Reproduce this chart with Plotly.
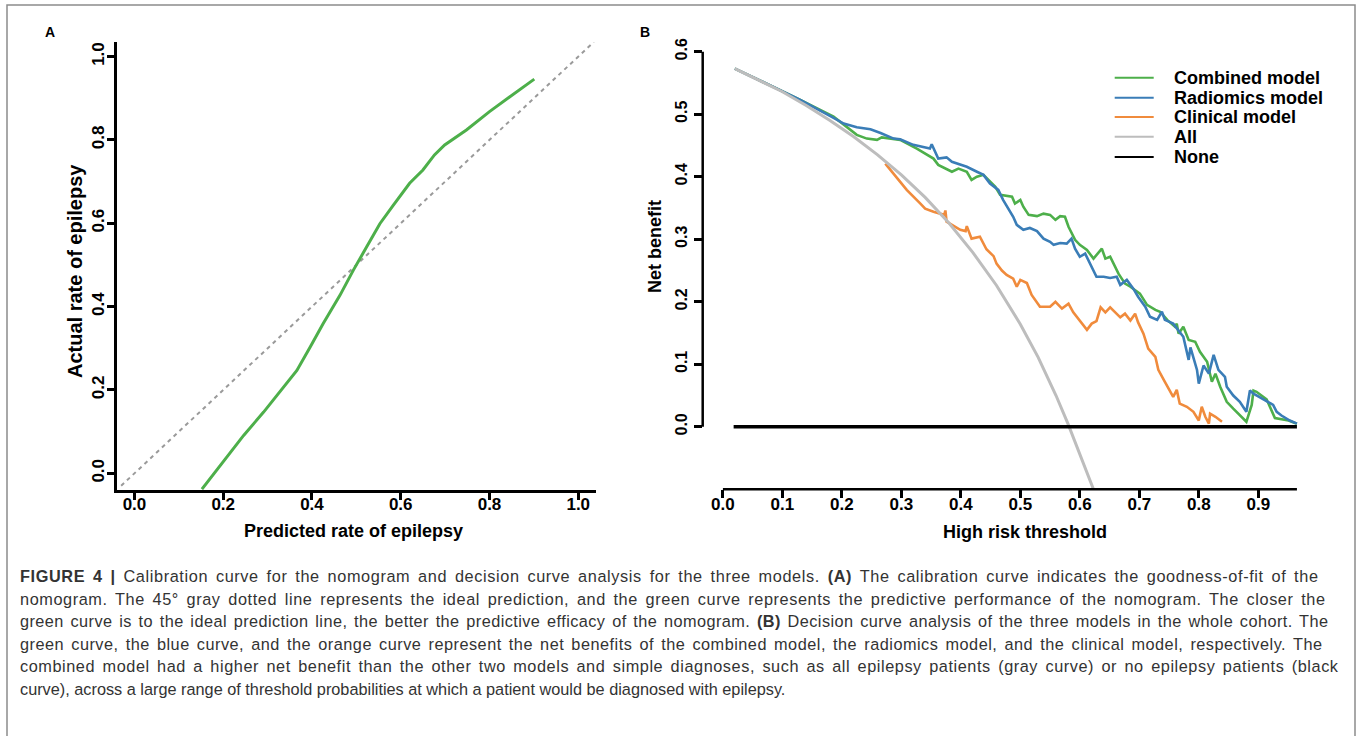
import plotly.graph_objects as go

W, H = 1357, 736

# ---------------- Panel A: calibration curve ----------------
calib_pred = [0.152, 0.201, 0.246, 0.291, 0.328, 0.366, 0.396, 0.425, 0.463, 0.493, 0.523,
              0.553, 0.583, 0.620, 0.650, 0.676, 0.699, 0.748, 0.800, 0.852, 0.901]
calib_actual = [-0.038, 0.030, 0.091, 0.147, 0.195, 0.247, 0.303, 0.359, 0.427, 0.487, 0.543,
                0.599, 0.643, 0.696, 0.728, 0.764, 0.788, 0.824, 0.868, 0.908, 0.946]
ideal_x = [-0.03, 1.035]
ideal_y = [-0.03, 1.035]
calib_ticks = [0.0, 0.2, 0.4, 0.6, 0.8, 1.0]
calib_ticktext = ["0.0", "0.2", "0.4", "0.6", "0.8", "1.0"]

# ---------------- Panel B: decision curves ----------------
comb_x = [0.02, 0.074, 0.13, 0.186, 0.208, 0.225, 0.242, 0.259, 0.267, 0.281, 0.298, 0.326, 0.354,
          0.362, 0.376, 0.385, 0.396, 0.410, 0.418, 0.427, 0.438, 0.449, 0.458, 0.466, 0.478, 0.486,
          0.491, 0.500, 0.505, 0.514, 0.528, 0.539, 0.550, 0.559, 0.567, 0.575, 0.581, 0.592, 0.600,
          0.612, 0.623, 0.637, 0.643, 0.651, 0.665, 0.676, 0.685, 0.701, 0.713, 0.727, 0.735, 0.747,
          0.760, 0.763, 0.766, 0.774, 0.783, 0.794, 0.802, 0.814, 0.822, 0.828, 0.836, 0.847, 0.858,
          0.869, 0.880, 0.889, 0.892, 0.897, 0.914, 0.928, 0.951, 0.965]
comb_y = [0.573, 0.549, 0.523, 0.496, 0.480, 0.467, 0.461, 0.459, 0.463, 0.461, 0.459, 0.445, 0.429,
          0.419, 0.413, 0.408, 0.413, 0.408, 0.395, 0.400, 0.403, 0.392, 0.384, 0.371, 0.369, 0.368,
          0.357, 0.363, 0.352, 0.339, 0.337, 0.341, 0.339, 0.331, 0.337, 0.336, 0.320, 0.299, 0.291,
          0.283, 0.269, 0.285, 0.269, 0.272, 0.245, 0.229, 0.224, 0.213, 0.195, 0.187, 0.184, 0.171,
          0.160, 0.165, 0.149, 0.160, 0.139, 0.136, 0.120, 0.104, 0.072, 0.085, 0.064, 0.040, 0.029,
          0.018, 0.008, 0.035, 0.058, 0.056, 0.044, 0.014, 0.010, 0.005]

radi_x = [0.02, 0.074, 0.13, 0.186, 0.203, 0.225, 0.248, 0.265, 0.287, 0.298, 0.320, 0.348, 0.351,
          0.362, 0.376, 0.385, 0.396, 0.410, 0.427, 0.438, 0.449, 0.463, 0.471, 0.480, 0.488, 0.494,
          0.505, 0.516, 0.528, 0.539, 0.550, 0.556, 0.567, 0.578, 0.586, 0.592, 0.600, 0.609, 0.617,
          0.623, 0.628, 0.640, 0.651, 0.662, 0.668, 0.679, 0.690, 0.698, 0.710, 0.718, 0.730, 0.738,
          0.743, 0.757, 0.774, 0.783, 0.786, 0.797, 0.800, 0.808, 0.817, 0.825, 0.833, 0.844, 0.847,
          0.858, 0.869, 0.880, 0.886, 0.892, 0.903, 0.914, 0.925, 0.931, 0.939, 0.953, 0.965]
radi_y = [0.573, 0.549, 0.523, 0.494, 0.485, 0.479, 0.476, 0.470, 0.461, 0.460, 0.451, 0.445, 0.452,
          0.429, 0.431, 0.424, 0.420, 0.416, 0.408, 0.403, 0.389, 0.379, 0.363, 0.349, 0.336, 0.323,
          0.315, 0.318, 0.313, 0.301, 0.296, 0.291, 0.294, 0.293, 0.301, 0.285, 0.272, 0.277, 0.261,
          0.251, 0.240, 0.240, 0.238, 0.240, 0.227, 0.235, 0.221, 0.208, 0.192, 0.176, 0.171, 0.184,
          0.171, 0.165, 0.144, 0.107, 0.127, 0.091, 0.069, 0.098, 0.085, 0.115, 0.091, 0.080, 0.064,
          0.050, 0.040, 0.024, 0.058, 0.053, 0.047, 0.042, 0.035, 0.024, 0.018, 0.010, 0.005]

clin_x = [0.273, 0.287, 0.309, 0.332, 0.340, 0.354, 0.372, 0.374, 0.376, 0.399, 0.408, 0.410, 0.418,
          0.432, 0.438, 0.443, 0.455, 0.460, 0.469, 0.477, 0.488, 0.494, 0.500, 0.511, 0.519, 0.533,
          0.550, 0.559, 0.570, 0.581, 0.589, 0.600, 0.612, 0.620, 0.628, 0.635, 0.643, 0.651, 0.660,
          0.668, 0.676, 0.685, 0.693, 0.698, 0.707, 0.715, 0.727, 0.732, 0.743, 0.757, 0.763, 0.768,
          0.780, 0.791, 0.800, 0.805, 0.811, 0.817, 0.819, 0.828, 0.839]
clin_y = [0.421, 0.405, 0.379, 0.357, 0.349, 0.344, 0.339, 0.346, 0.328, 0.315, 0.313, 0.321, 0.301,
          0.304, 0.293, 0.284, 0.273, 0.261, 0.250, 0.243, 0.237, 0.224, 0.235, 0.230, 0.211, 0.192,
          0.192, 0.200, 0.189, 0.197, 0.183, 0.169, 0.155, 0.165, 0.169, 0.191, 0.183, 0.191, 0.183,
          0.175, 0.181, 0.170, 0.181, 0.167, 0.149, 0.125, 0.112, 0.091, 0.072, 0.048, 0.059, 0.037,
          0.032, 0.024, 0.010, 0.032, 0.016, 0.005, 0.021, 0.016, 0.008]

all_x = [0.02, 0.06, 0.10, 0.14, 0.18, 0.22, 0.26, 0.30, 0.34, 0.38, 0.42, 0.46, 0.50, 0.53,
         0.56, 0.58, 0.60, 0.625]
all_y = [0.573, 0.555, 0.536, 0.514, 0.490, 0.464, 0.435, 0.403, 0.367, 0.326, 0.279, 0.226,
         0.164, 0.111, 0.050, 0.005, -0.045, -0.105]

none_x = [0.018, 0.965]
none_y = [0.0, 0.0]

dca_xticks = [0.0, 0.1, 0.2, 0.3, 0.4, 0.5, 0.6, 0.7, 0.8, 0.9]
dca_xticktext = ["0.0", "0.1", "0.2", "0.3", "0.4", "0.5", "0.6", "0.7", "0.8", "0.9"]
dca_yticks = [0.0, 0.1, 0.2, 0.3, 0.4, 0.5, 0.6]
dca_yticktext = ["0.0", "0.1", "0.2", "0.3", "0.4", "0.5", "0.6"]

legend_names = ["Combined model", "Radiomics model", "Clinical model", "All", "None"]

caption_lines = [
    "<b>FIGURE 4 |</b> Calibration curve for the nomogram and decision curve analysis for the three models. <b>(A)</b> The calibration curve indicates the goodness-of-fit of the",
    "nomogram. The 45° gray dotted line represents the ideal prediction, and the green curve represents the predictive performance of the nomogram. The closer the",
    "green curve is to the ideal prediction line, the better the predictive efficacy of the nomogram. <b>(B)</b> Decision curve analysis of the three models in the whole cohort. The",
    "green curve, the blue curve, and the orange curve represent the net benefits of the combined model, the radiomics model, and the clinical model, respectively. The",
    "combined model had a higher net benefit than the other two models and simple diagnoses, such as all epilepsy patients (gray curve) or no epilepsy patients (black",
    "curve), across a large range of threshold probabilities at which a patient would be diagnosed with epilepsy.",
]

# ---------------- styling ----------------
GREEN = "#4daf4a"
BLUE = "#3a7db7"
ORANGE = "#f08b3c"
GRAY = "#bdbdbd"
BLACK = "#000000"
FONT = "Liberation Sans, Arial, Helvetica, sans-serif"


def px(x):
    return x / W


def py(y):
    return (H - y) / H


fig = go.Figure()

# Panel A traces
fig.add_trace(go.Scatter(x=ideal_x, y=ideal_y, mode="lines", xaxis="x", yaxis="y",
                         line=dict(color="#9a9a9a", width=2, dash="4px,4px"), showlegend=False,
                         hoverinfo="skip"))
fig.add_trace(go.Scatter(x=calib_pred, y=calib_actual, mode="lines", xaxis="x", yaxis="y",
                         line=dict(color=GREEN, width=3), showlegend=False, name="Calibration"))

# Panel B traces
series = [
    (comb_x, comb_y, GREEN, 2.6, legend_names[0]),
    (radi_x, radi_y, BLUE, 2.6, legend_names[1]),
    (clin_x, clin_y, ORANGE, 2.6, legend_names[2]),
    (all_x, all_y, GRAY, 3, legend_names[3]),
    (none_x, none_y, BLACK, 3.5, legend_names[4]),
]
for sx, sy, col, wd, nm in series:
    fig.add_trace(go.Scatter(x=sx, y=sy, mode="lines", xaxis="x2", yaxis="y2", name=nm,
                             line=dict(color=col, width=wd), showlegend=False))

tickfont_a = dict(family=FONT, size=17, color="black", weight="bold")
tickfont_b = dict(family=FONT, size=16, color="black", weight="bold")

fig.update_layout(
    width=W, height=H,
    margin=dict(l=0, r=0, t=0, b=0),
    paper_bgcolor="white", plot_bgcolor="white",
    showlegend=False,
    xaxis=dict(domain=[px(116.7), px(596)], range=[-0.04, 1.04], anchor="y",
               tickvals=calib_ticks, ticktext=calib_ticktext, tickfont=tickfont_a,
               ticklabelstandoff=-10,
               showline=True, linecolor="black", linewidth=2.5, ticks="outside",
               ticklen=7, tickwidth=2.5, tickcolor="black", showgrid=False, zeroline=False),
    yaxis=dict(domain=[py(490), py(42)], range=[-0.04, 1.035], anchor="x",
               tickvals=calib_ticks, ticktext=calib_ticktext, tickfont=tickfont_a, tickangle=-90,
               ticklabelstandoff=-4,
               showline=True, linecolor="black", linewidth=2.5, ticks="outside",
               ticklen=7, tickwidth=2.5, tickcolor="black", showgrid=False, zeroline=False),
    xaxis2=dict(domain=[px(702.7), px(1299.9)], range=[-0.034, 0.97], anchor="y2",
                tickvals=dca_xticks, ticktext=dca_xticktext, tickfont=tickfont_a,
                ticklabelstandoff=-9,
                showline=False, ticks="outside", ticklen=8, tickwidth=2.5, tickcolor="black",
                showgrid=False, zeroline=False),
    yaxis2=dict(domain=[py(489.3), py(39.2)], range=[-0.1, 0.62], anchor="x2",
                tickvals=dca_yticks, ticktext=dca_yticktext, tickfont=tickfont_b, tickangle=-90,
                showline=False, ticks="outside", ticklen=8, tickwidth=2.5, tickcolor="black",
                showgrid=False, zeroline=False),
)

shapes = []
# panel B axis lines (R style: only over the tick range)
shapes.append(dict(type="line", xref="x2 domain", yref="y2", x0=0, x1=0, y0=0, y1=0.6,
                   line=dict(color="black", width=2.5)))
shapes.append(dict(type="line", xref="x2", yref="y2 domain", x0=0, x1=0.965, y0=0, y1=0,
                   line=dict(color="black", width=2.5)))
# figure frame
shapes.append(dict(type="rect", xref="paper", yref="paper", x0=px(7), x1=px(1355), y0=-0.05,
                   y1=py(5), line=dict(color="#8c8c8c", width=1.5), fillcolor="rgba(0,0,0,0)"))

# manual legend for panel B
leg_cols = [GREEN, BLUE, ORANGE, GRAY, BLACK]
leg_rows = [77.7, 97.7, 116.9, 136.7, 157.0]
annotations = []
for nm, col, ry in zip(legend_names, leg_cols, leg_rows):
    shapes.append(dict(type="line", xref="paper", yref="paper", x0=px(1114.7), x1=px(1153.7),
                       y0=py(ry), y1=py(ry), line=dict(color=col, width=2)))
    annotations.append(dict(xref="paper", yref="paper", x=px(1172), y=py(ry), text=nm,
                            showarrow=False, xanchor="left", yanchor="middle",
                            font=dict(family=FONT, size=18, color="black", weight="bold")))

# axis titles
title_font = dict(family=FONT, size=18, color="black", weight="bold")
annotations += [
    dict(xref="paper", yref="paper", x=px(353), y=py(531), text="Predicted rate of epilepsy",
         showarrow=False, xanchor="center", yanchor="middle", font=title_font),
    dict(xref="paper", yref="paper", x=px(75), y=py(271), text="Actual rate of epilepsy",
         textangle=-90, showarrow=False, xanchor="center", yanchor="middle",
         font=dict(family=FONT, size=20, color="black", weight="bold")),
    dict(xref="paper", yref="paper", x=px(1024.7), y=py(532), text="High risk threshold",
         showarrow=False, xanchor="center", yanchor="middle", font=title_font),
    dict(xref="paper", yref="paper", x=px(655), y=py(247), text="Net benefit",
         textangle=-90, showarrow=False, xanchor="center", yanchor="middle", font=title_font),
    dict(xref="paper", yref="paper", x=px(50), y=py(31.5), text="A", showarrow=False,
         xanchor="center", yanchor="middle",
         font=dict(family=FONT, size=14, color="black", weight="bold")),
    dict(xref="paper", yref="paper", x=px(645), y=py(31.5), text="B", showarrow=False,
         xanchor="center", yanchor="middle",
         font=dict(family=FONT, size=14, color="black", weight="bold")),
]

# caption (justified: the first five lines are spread to the right margin)
first_caption = len(annotations)
cap_y = [576, 598.5, 621, 643.5, 666, 688.5]
for line, cy in zip(caption_lines, cap_y):
    annotations.append(dict(xref="paper", yref="paper", x=px(18), y=py(cy), text=line,
                            showarrow=False, xanchor="left", yanchor="middle", align="left",
                            font=dict(family=FONT, size=16.3, color="#333333")))

fig.update_layout(shapes=shapes, annotations=annotations)

line_ends = [1318, 1325, 1328, 1322, 1338]
targets = ",".join('"%d":%d' % (first_caption + i, e) for i, e in enumerate(line_ends))
post = """
document.body.style.margin='0';document.body.style.overflow='hidden';
(function(){
  var targets = {%s};
  function justify(){
    for (var k in targets){
      var t = document.querySelector('g.annotation[data-index="'+k+'"] text.annotation-text');
      if(!t) continue;
      t.style.letterSpacing = '0px';
      t.style.wordSpacing = '0px';
      var w = t.getComputedTextLength();
      var n = t.textContent.length;
      var sp = (t.textContent.match(/ /g)||[]).length;
      var box = t.getBBox();
      var left = t.getScreenCTM().e + box.x;
      var extra = targets[k] - left - w;
      if (extra > 0 && n > 1) {
        var ls = 0.6 * extra / (n - 1);
        var ws = sp > 0 ? 0.4 * extra / sp : 0;
        t.style.letterSpacing = ls + 'px';
        t.style.wordSpacing = ws + 'px';
      }
    }
  }
  justify(); setTimeout(justify, 50); setTimeout(justify, 300);
})();
""" % targets

fig.write_html("out.html", config={"displayModeBar": False}, post_script=post)
